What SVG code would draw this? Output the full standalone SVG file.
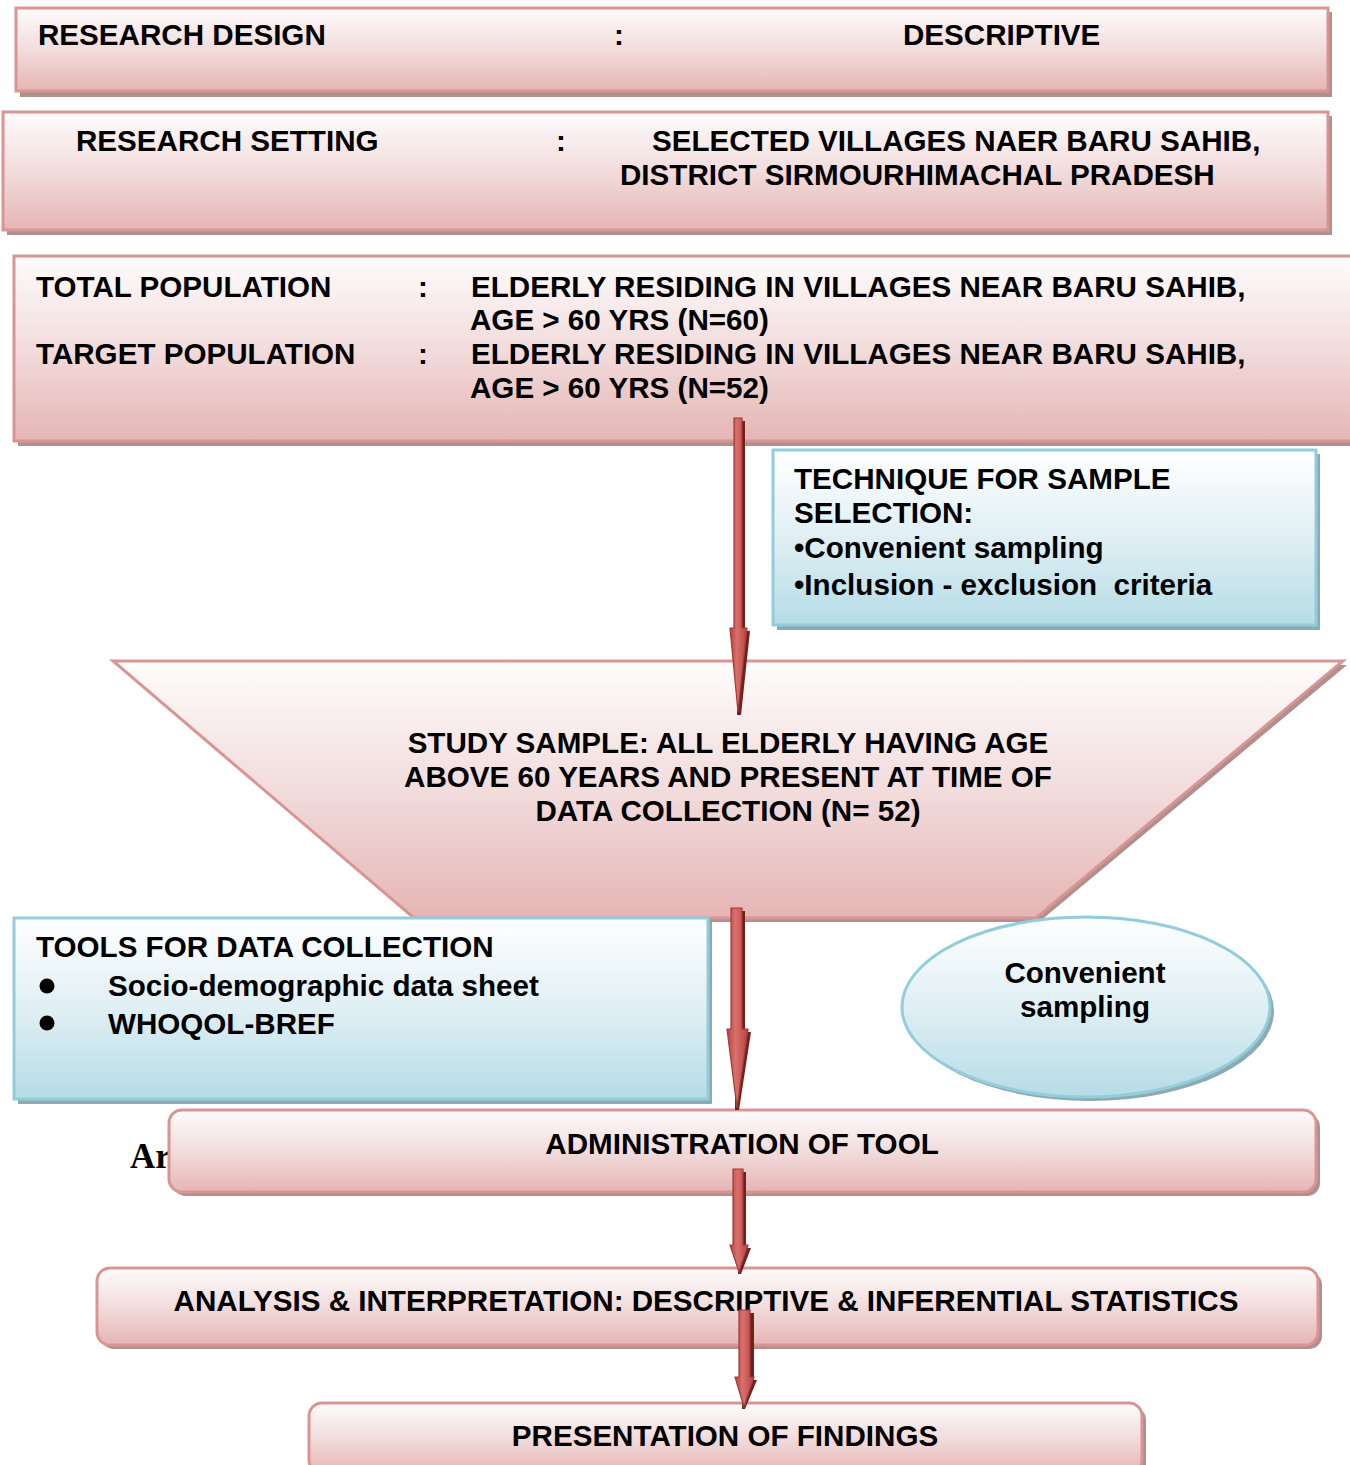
<svg xmlns="http://www.w3.org/2000/svg" width="1350" height="1465" viewBox="0 0 1350 1465">
<defs>
<linearGradient id="pink" x1="0" y1="0" x2="0" y2="1">
<stop offset="0" stop-color="#fefcfc"/>
<stop offset="0.5" stop-color="#f2dcdc"/>
<stop offset="1" stop-color="#e5b5b4"/>
</linearGradient>
<linearGradient id="blue" x1="0" y1="0" x2="0" y2="1">
<stop offset="0" stop-color="#ffffff"/>
<stop offset="0.5" stop-color="#e0eff4"/>
<stop offset="1" stop-color="#b5dce6"/>
</linearGradient>
<linearGradient id="arr" x1="0" y1="0" x2="1" y2="0">
<stop offset="0" stop-color="#b8423f"/>
<stop offset="0.4" stop-color="#d9706d"/>
<stop offset="1" stop-color="#b8423f"/>
</linearGradient>
<style>
.pk{fill:url(#pink);stroke:#d99594;stroke-width:3}
.bl{fill:url(#blue);stroke:#92cddc;stroke-width:3}
.ps{fill:#b08f8f}
.bs{fill:#8eaab1}
.t{font-family:"Liberation Sans",Arial,sans-serif;font-weight:bold;font-size:29.6px;fill:#000}
.as{fill:#6e2220}
.af{fill:url(#arr);stroke:#a33a37;stroke-width:1.2}
</style>
</defs>

<g id="research-design">
<rect x="20" y="12" width="1312" height="85" class="ps"/>
<rect x="16" y="8" width="1312" height="83" class="pk"/>
<text class="t" x="38" y="45">RESEARCH DESIGN</text>
<text class="t" x="614" y="45">:</text>
<text class="t" x="903" y="45">DESCRIPTIVE</text>
</g>

<g id="research-setting">
<rect x="7" y="116" width="1325" height="119" class="ps"/>
<rect x="3" y="112" width="1325" height="118" class="pk"/>
<text class="t" x="76" y="151">RESEARCH SETTING</text>
<text class="t" x="556" y="151">:</text>
<text class="t" x="652" y="151">SELECTED VILLAGES NAER BARU SAHIB,</text>
<text class="t" x="620" y="185">DISTRICT SIRMOURHIMACHAL PRADESH</text>
</g>

<g id="population">
<rect x="18" y="260" width="1345" height="186" class="ps"/>
<rect x="14" y="256" width="1345" height="185" class="pk"/>
<text class="t" x="36" y="297">TOTAL POPULATION</text>
<text class="t" x="418" y="297">:</text>
<text class="t" x="471" y="297">ELDERLY RESIDING IN VILLAGES NEAR BARU SAHIB,</text>
<text class="t" x="470" y="330">AGE &gt; 60 YRS (N=60)</text>
<text class="t" x="36" y="364">TARGET POPULATION</text>
<text class="t" x="418" y="364">:</text>
<text class="t" x="471" y="364">ELDERLY RESIDING IN VILLAGES NEAR BARU SAHIB,</text>
<text class="t" x="470" y="398">AGE &gt; 60 YRS (N=52)</text>
</g>

<g id="technique">
<rect x="777" y="454" width="543" height="176" class="bs"/>
<rect x="773" y="450" width="543" height="175" class="bl"/>
<text class="t" x="794" y="489">TECHNIQUE FOR SAMPLE</text>
<text class="t" x="794" y="523">SELECTION:</text>
<text class="t" x="794" y="558">•Convenient sampling</text>
<text class="t" x="794" y="595" xml:space="preserve">•Inclusion - exclusion  criteria</text>
</g>

<g id="study-sample">
<polygon points="117,665 1347,665 1039,922 417,922" class="ps"/>
<polygon points="113,661 1343,661 1036,918 414,918" class="pk"/>
<text class="t" x="728" y="753" text-anchor="middle">STUDY SAMPLE: ALL ELDERLY HAVING AGE</text>
<text class="t" x="728" y="787" text-anchor="middle">ABOVE 60 YEARS AND PRESENT AT TIME OF</text>
<text class="t" x="728" y="821" text-anchor="middle">DATA COLLECTION (N= 52)</text>
</g>

<g id="tools">
<rect x="18" y="922" width="694" height="182" class="bs"/>
<rect x="14" y="918" width="694" height="181" class="bl"/>
<text class="t" x="36" y="957">TOOLS FOR DATA COLLECTION</text>
<circle cx="47" cy="986" r="7.5" fill="#000"/>
<text class="t" x="108" y="996">Socio-demographic data sheet</text>
<circle cx="47" cy="1023" r="7.5" fill="#000"/>
<text class="t" x="108" y="1034">WHOQOL-BREF</text>
</g>

<g id="convenient">
<ellipse cx="1090" cy="1011" rx="184" ry="90" class="bs"/>
<ellipse cx="1086" cy="1007" rx="184" ry="90" class="bl"/>
<text class="t" x="1085" y="983" text-anchor="middle">Convenient</text>
<text class="t" x="1085" y="1017" text-anchor="middle">sampling</text>
</g>

<g id="partial-text">
<text x="130" y="1168" font-family="'Liberation Serif','Times New Roman',serif" font-weight="bold" font-size="35" fill="#000">Ar</text>
</g>

<g id="administration">
<rect x="173" y="1114" width="1147" height="82" rx="13" class="ps"/>
<rect x="169" y="1110" width="1147" height="82" rx="13" class="pk"/>
<text class="t" x="742" y="1154" text-anchor="middle">ADMINISTRATION OF TOOL</text>
</g>

<g id="analysis">
<rect x="101" y="1272" width="1221" height="77" rx="13" class="ps"/>
<rect x="97" y="1268" width="1221" height="77" rx="13" class="pk"/>
<text class="t" x="706" y="1311" text-anchor="middle">ANALYSIS &amp; INTERPRETATION: DESCRIPTIVE &amp; INFERENTIAL STATISTICS</text>
</g>

<g id="presentation">
<rect x="313" y="1407" width="833" height="70" rx="13" class="ps"/>
<rect x="309" y="1403" width="833" height="70" rx="13" class="pk"/>
<text class="t" x="725" y="1446" text-anchor="middle">PRESENTATION OF FINDINGS</text>
</g>

<g id="connectors">
<polygon class="as" points="737,421 745,421 745,631 750,631 741,715 737,715"/>
<polygon class="af" points="734,418 742,418 742,628 747,628 738,712 730,628 734,628"/>

<polygon class="as" points="736,911 745,911 745,1032 751,1032 739,1110 735,1110"/>
<polygon class="af" points="731,908 742,908 742,1029 748,1029 737,1108 727,1029 731,1029"/>

<polygon class="as" points="737,1172 746,1172 746,1248 751,1248 741,1274 738,1274"/>
<polygon class="af" points="733,1169 743,1169 743,1245 748,1245 739,1272 730,1245 733,1245"/>

<polygon class="as" points="743,1313 754,1313 754,1380 757,1380 745,1409 742,1409"/>
<polygon class="af" points="739,1310 750,1310 750,1377 754,1377 744,1407 735,1377 739,1377"/>
</g>
</svg>
